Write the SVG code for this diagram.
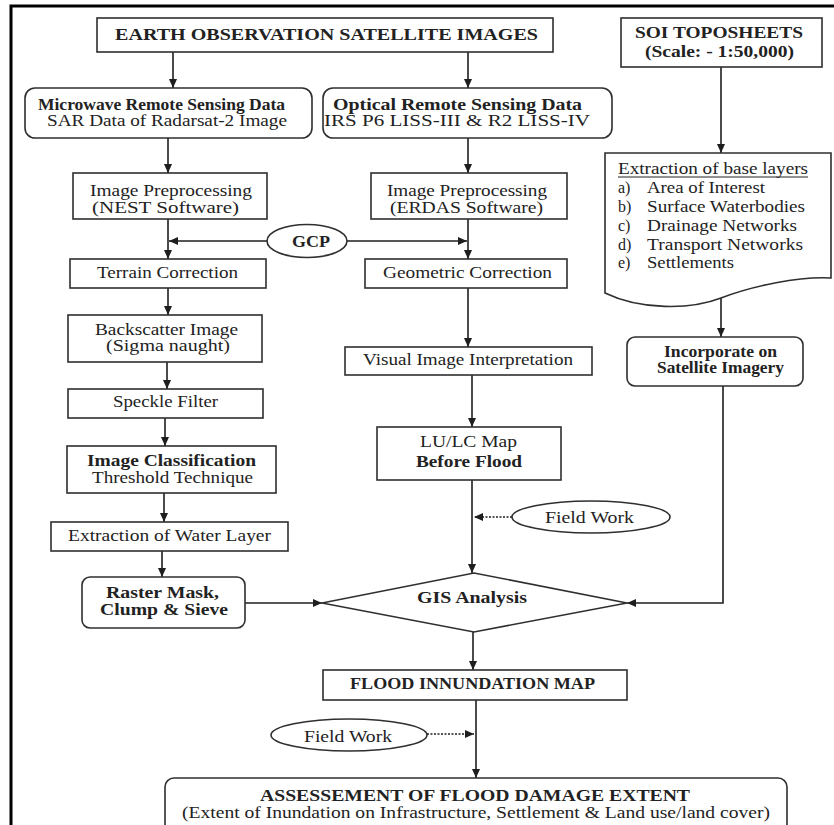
<svg xmlns="http://www.w3.org/2000/svg" width="834" height="825" viewBox="0 0 834 825">
<defs>
<marker id="ah" markerUnits="userSpaceOnUse" markerWidth="9" markerHeight="8" refX="9" refY="4" orient="auto">
<path d="M0,0 L9,4 L0,8 z" fill="#1e1e1e"/>
</marker>
<style>
.box{fill:#fff;stroke:#2f2f2f;stroke-width:1.6}
.t{font-family:"Liberation Serif","Times New Roman",serif;font-size:16px;fill:#222;text-anchor:middle}
.s{text-anchor:start}
.b{font-weight:bold}
.h{font-size:17.5px}
.c{fill:none;stroke:#1e1e1e;stroke-width:1.6;marker-end:url(#ah)}
.d{stroke-dasharray:2 1.5}
</style>
</defs>
<rect width="834" height="825" fill="#fff"/>
<path d="M11,825 V6 H834" fill="none" stroke="#000" stroke-width="3"/>

<g id="connectors">
<path class="c" d="M173,52 V88"/>
<path class="c" d="M468,52 V88"/>
<path class="c" d="M168,138 V173"/>
<path class="c" d="M468,138 V173"/>
<path class="c" d="M168,219 V259"/>
<path class="c" d="M468,219 V259"/>
<path class="c" d="M267,241 H169"/>
<path class="c" d="M347,241 H467"/>
<path class="c" d="M168,288 V315"/>
<path class="c" d="M468,288 V347"/>
<path class="c" d="M167,362 V389"/>
<path class="c" d="M165,418 V446"/>
<path class="c" d="M164,493 V522"/>
<path class="c" d="M162,551 V577"/>
<path class="c" d="M245,603 H322"/>
<path class="c" d="M472,375 V427"/>
<path class="c" d="M472,480 V573"/>
<path class="c d" d="M512,517 H474"/>
<path class="c" d="M721,67 V153"/>
<path class="c" d="M721,298 V337"/>
<path class="c" d="M723,386 V603 H627"/>
<path class="c" d="M473,632 V670"/>
<path class="c" d="M476,700 V778"/>
<path class="c d" d="M427,734 H474"/>
</g>

<g id="earth">
<rect class="box" x="97" y="18" width="456" height="34"/>
<text class="t b h" x="326.5" y="40" textLength="423" lengthAdjust="spacingAndGlyphs">EARTH OBSERVATION SATELLITE IMAGES</text>
</g>
<g id="microwave">
<rect class="box" x="25" y="88" width="287" height="50" rx="10"/>
<text class="t b" x="161.5" y="110" font-size="15.5" textLength="247" lengthAdjust="spacingAndGlyphs">Microwave Remote Sensing Data</text>
<text class="t" x="167" y="126" font-size="17" textLength="240" lengthAdjust="spacingAndGlyphs">SAR Data of Radarsat-2 Image</text>
</g>
<g id="optical">
<rect class="box" x="323" y="88" width="289" height="50" rx="10"/>
<text class="t b" x="457.5" y="110" font-size="15.5" textLength="249" lengthAdjust="spacingAndGlyphs">Optical Remote Sensing Data</text>
<text class="t" x="457" y="126" font-size="17" textLength="266" lengthAdjust="spacingAndGlyphs">IRS P6 LISS-III &amp; R2 LISS-IV</text>
</g>
<g id="nest">
<rect class="box" x="73" y="173" width="194" height="46"/>
<text class="t" x="171" y="196" textLength="162" lengthAdjust="spacingAndGlyphs">Image Preprocessing</text>
<text class="t" x="165.5" y="213" textLength="147" lengthAdjust="spacingAndGlyphs">(NEST Software)</text>
</g>
<g id="erdas">
<rect class="box" x="371" y="173" width="196" height="46"/>
<text class="t" x="467" y="196" textLength="160" lengthAdjust="spacingAndGlyphs">Image Preprocessing</text>
<text class="t" x="466.5" y="213" textLength="153" lengthAdjust="spacingAndGlyphs">(ERDAS Software)</text>
</g>
<g id="gcp">
<ellipse class="box" cx="307" cy="241" rx="40" ry="16.5"/>
<text class="t b" x="311" y="247" textLength="38" lengthAdjust="spacingAndGlyphs">GCP</text>
</g>
<g id="terrain">
<rect class="box" x="70" y="259" width="196" height="29"/>
<text class="t" x="167.5" y="278" textLength="141" lengthAdjust="spacingAndGlyphs">Terrain Correction</text>
</g>
<g id="geometric">
<rect class="box" x="365" y="259" width="202" height="29"/>
<text class="t" x="467.5" y="278" textLength="169" lengthAdjust="spacingAndGlyphs">Geometric Correction</text>
</g>
<g id="backscatter">
<rect class="box" x="68" y="315" width="194" height="47"/>
<text class="t" x="166.5" y="335" textLength="143" lengthAdjust="spacingAndGlyphs">Backscatter Image</text>
<text class="t" x="168" y="351" textLength="124" lengthAdjust="spacingAndGlyphs">(Sigma naught)</text>
</g>
<g id="visual">
<rect class="box" x="345" y="347" width="247" height="28"/>
<text class="t" x="468" y="365" textLength="210" lengthAdjust="spacingAndGlyphs">Visual Image Interpretation</text>
</g>
<g id="speckle">
<rect class="box" x="68" y="389" width="195" height="29"/>
<text class="t" x="165.5" y="407" textLength="105" lengthAdjust="spacingAndGlyphs">Speckle Filter</text>
</g>
<g id="classification">
<rect class="box" x="67" y="446" width="209" height="47"/>
<text class="t b" x="171.5" y="466" textLength="169" lengthAdjust="spacingAndGlyphs">Image Classification</text>
<text class="t" x="172.5" y="483" textLength="161" lengthAdjust="spacingAndGlyphs">Threshold Technique</text>
</g>
<g id="water">
<rect class="box" x="51" y="522" width="237" height="29"/>
<text class="t" x="169.5" y="541" textLength="203" lengthAdjust="spacingAndGlyphs">Extraction of Water Layer</text>
</g>
<g id="raster">
<rect class="box" x="82" y="577" width="163" height="51" rx="8"/>
<text class="t b" x="162.5" y="598" textLength="113" lengthAdjust="spacingAndGlyphs">Raster Mask,</text>
<text class="t b" x="164" y="615" textLength="128" lengthAdjust="spacingAndGlyphs">Clump &amp; Sieve</text>
</g>
<g id="lulc">
<rect class="box" x="377" y="427" width="184" height="53"/>
<text class="t" x="468.5" y="447" textLength="97" lengthAdjust="spacingAndGlyphs">LU/LC Map</text>
<text class="t b" x="469" y="467" textLength="106" lengthAdjust="spacingAndGlyphs">Before Flood</text>
</g>
<g id="fieldwork1">
<ellipse class="box" cx="591" cy="517" rx="79" ry="16"/>
<text class="t" x="589.5" y="523" textLength="89" lengthAdjust="spacingAndGlyphs">Field Work</text>
</g>
<g id="soi">
<rect class="box" x="621" y="18" width="201" height="49"/>
<text class="t b" x="719" y="38" textLength="168" lengthAdjust="spacingAndGlyphs">SOI TOPOSHEETS</text>
<text class="t b" x="719.5" y="57" textLength="149" lengthAdjust="spacingAndGlyphs">(Scale: - 1:50,000)</text>
</g>
<g id="baselayers">
<path class="box" d="M605,153 H831 V278 C800,276 752,286 721,298 C690,310 640,310 605,293 Z"/>
<text class="t s" x="618" y="174" textLength="190" lengthAdjust="spacingAndGlyphs">Extraction  of base layers</text>
<line x1="618" y1="177" x2="808" y2="177" stroke="#222" stroke-width="1"/>
<text class="t s" x="618" y="193">a)</text>
<text class="t s" x="647" y="193" textLength="118" lengthAdjust="spacingAndGlyphs">Area of Interest</text>
<text class="t s" x="618" y="212">b)</text>
<text class="t s" x="647" y="212" textLength="158" lengthAdjust="spacingAndGlyphs">Surface Waterbodies</text>
<text class="t s" x="618" y="231">c)</text>
<text class="t s" x="647" y="231" textLength="150" lengthAdjust="spacingAndGlyphs">Drainage Networks</text>
<text class="t s" x="618" y="250">d)</text>
<text class="t s" x="647" y="250" textLength="156" lengthAdjust="spacingAndGlyphs">Transport Networks</text>
<text class="t s" x="618" y="268">e)</text>
<text class="t s" x="647" y="268" textLength="87" lengthAdjust="spacingAndGlyphs">Settlements</text>
</g>
<g id="incorporate">
<rect class="box" x="627" y="337" width="176" height="49" rx="8"/>
<text class="t b" x="720.5" y="357" textLength="113" lengthAdjust="spacingAndGlyphs">Incorporate on</text>
<text class="t b" x="720.5" y="373" textLength="127" lengthAdjust="spacingAndGlyphs">Satellite Imagery</text>
</g>
<g id="gis">
<polygon class="box" points="322,603 474,573 627,603 474,632"/>
<text class="t b h" x="472" y="603" textLength="110" lengthAdjust="spacingAndGlyphs">GIS Analysis</text>
</g>
<g id="floodmap">
<rect class="box" x="323" y="670" width="304" height="30"/>
<text class="t b" x="472.5" y="689" font-size="15" textLength="245" lengthAdjust="spacingAndGlyphs">FLOOD INNUNDATION MAP</text>
</g>
<g id="fieldwork2">
<ellipse class="box" cx="349" cy="735" rx="78" ry="16"/>
<text class="t" x="348" y="742" textLength="88" lengthAdjust="spacingAndGlyphs">Field Work</text>
</g>
<g id="assessment">
<rect class="box" x="165" y="778" width="622" height="70" rx="9"/>
<text class="t b h" x="475" y="801" textLength="430" lengthAdjust="spacingAndGlyphs">ASSESSEMENT OF FLOOD DAMAGE EXTENT</text>
<text class="t" x="476" y="818" textLength="588" lengthAdjust="spacingAndGlyphs">(Extent of Inundation on Infrastructure, Settlement &amp; Land use/land cover)</text>
</g>
</svg>
